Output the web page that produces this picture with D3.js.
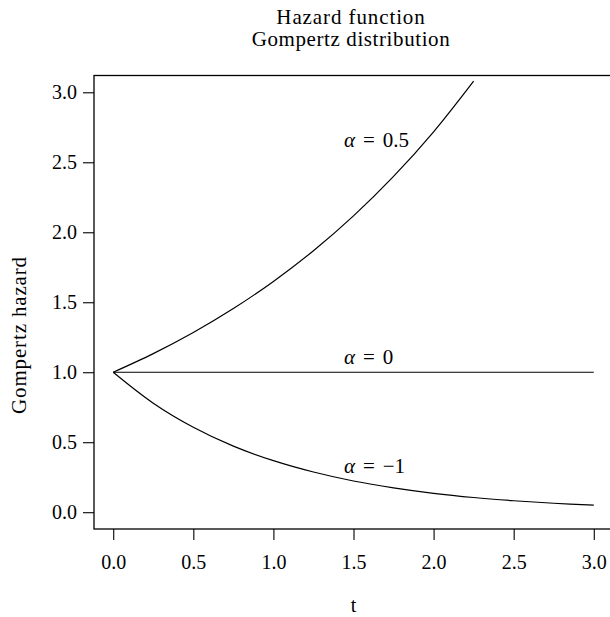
<!DOCTYPE html>
<html>
<head>
<meta charset="utf-8">
<script src="https://cdn.jsdelivr.net/npm/d3@7"></script>
<style>
  body { margin: 0; background: #fff; }
  svg text { font-family: "Liberation Serif", "DejaVu Serif", serif; fill: #000; }
</style>
</head>
<body>
<div id="chart"></div>
<script>
// values
var tHalf = [0, 0.25, 0.5, 0.75, 1.0, 1.25, 1.5, 1.75, 2.0, 2.25];
var hHalf = [1.00, 1.133, 1.284, 1.455, 1.649, 1.868, 2.117, 2.399, 2.718, 3.080];

var tZero = [0, 3];
var hZero = [1, 1];

var tMinus = [0, 0.25, 0.5, 0.75, 1.0, 1.25, 1.5, 1.75, 2.0, 2.25, 2.5, 2.75, 3.0];
var hMinus = [1.00, 0.779, 0.607, 0.472, 0.368, 0.287, 0.223, 0.174, 0.135, 0.105, 0.082, 0.064, 0.050];

var alphaLabels = ["0.5", "0", "\u22121"];
var xTicks = [0, 0.5, 1, 1.5, 2, 2.5, 3];
var yTicks = [0, 0.5, 1, 1.5, 2, 2.5, 3];

// label anchors (data units)
var labelAt = [[1.44, 2.66], [1.44, 1.11], [1.44, 0.33]];

var width = 610, height = 617;
// note: "top" is a reserved global in browsers, so use prefixed names
var pLeft = 94, pRight = 613, pTop = 75.5, pBottom = 529;

var svg = d3.select("#chart").append("svg")
  .attr("width", width)
  .attr("height", height);

var x = d3.scaleLinear().domain([-0.12, 3.12]).range([pLeft, pRight]);
var y = d3.scaleLinear().domain([-0.12, 3.12]).range([pBottom, pTop]);

// title (letter spacing to get close to the wider TeX font)
svg.append("text")
  .attr("x", 351).attr("y", 23.5)
  .attr("text-anchor", "middle").style("font-size", "21px")
  .style("letter-spacing", "0.9px")
  .text("Hazard function");
svg.append("text")
  .attr("x", 351).attr("y", 45.5)
  .attr("text-anchor", "middle").style("font-size", "21px")
  .style("letter-spacing", "0.6px")
  .text("Gompertz distribution");

// clip to plot region
svg.append("clipPath").attr("id", "plotclip")
  .append("rect")
  .attr("x", pLeft).attr("y", pTop)
  .attr("width", pRight - pLeft).attr("height", pBottom - pTop);

var line = d3.line()
  .x(function (d) { return x(d[0]); })
  .y(function (d) { return y(d[1]); })
  .curve(d3.curveCatmullRom);

var series = [
  d3.zip(tHalf, hHalf),
  d3.zip(tZero, hZero),
  d3.zip(tMinus, hMinus)
];

svg.append("g").attr("clip-path", "url(#plotclip)")
  .selectAll("path")
  .data(series)
  .enter()
  .append("path")
  .attr("d", line)
  .style("fill", "none")
  .style("stroke", "#000")
  .style("stroke-width", 1.2);

// box
svg.append("rect")
  .attr("x", pLeft).attr("y", pTop)
  .attr("width", pRight - pLeft).attr("height", pBottom - pTop)
  .style("fill", "none").style("stroke", "#000").style("stroke-width", 1.3);

// axes
var xAxis = svg.append("g")
  .attr("transform", "translate(0," + pBottom + ")")
  .call(d3.axisBottom(x).tickValues(xTicks).tickFormat(d3.format(".1f"))
    .tickSize(11).tickPadding(15));
var yAxis = svg.append("g")
  .attr("transform", "translate(" + pLeft + ",0)")
  .call(d3.axisLeft(y).tickValues(yTicks).tickFormat(d3.format(".1f"))
    .tickSize(11).tickPadding(6));

[xAxis, yAxis].forEach(function (g) {
  g.select(".domain").remove();
  g.selectAll(".tick line").style("stroke", "#000").style("stroke-width", 1.1);
  g.selectAll(".tick text")
    .style("font-family", "'Liberation Serif', serif")
    .style("font-size", "20px")
    .style("fill", "#000");
});

// axis titles
svg.append("text")
  .attr("x", (pLeft + pRight) / 2).attr("y", 612)
  .attr("text-anchor", "middle").style("font-size", "20px")
  .text("t");
svg.append("text")
  .attr("transform", "translate(26,335) rotate(-90)")
  .attr("text-anchor", "middle").style("font-size", "21px")
  .style("letter-spacing", "0.85px")
  .text("Gompertz hazard");

// curve labels
var lab = svg.selectAll(".alab")
  .data(alphaLabels)
  .enter()
  .append("text")
  .attr("class", "alab")
  .attr("x", function (d, i) { return x(labelAt[i][0]); })
  .attr("y", function (d, i) { return y(labelAt[i][1]) + 7; })
  .style("font-size", "21px");
lab.append("tspan").style("font-style", "italic").text("\u03B1");
lab.append("tspan").attr("dx", 8).text("=");
lab.append("tspan").attr("dx", 8).text(function (d) { return d; });
</script>
</body>
</html>
